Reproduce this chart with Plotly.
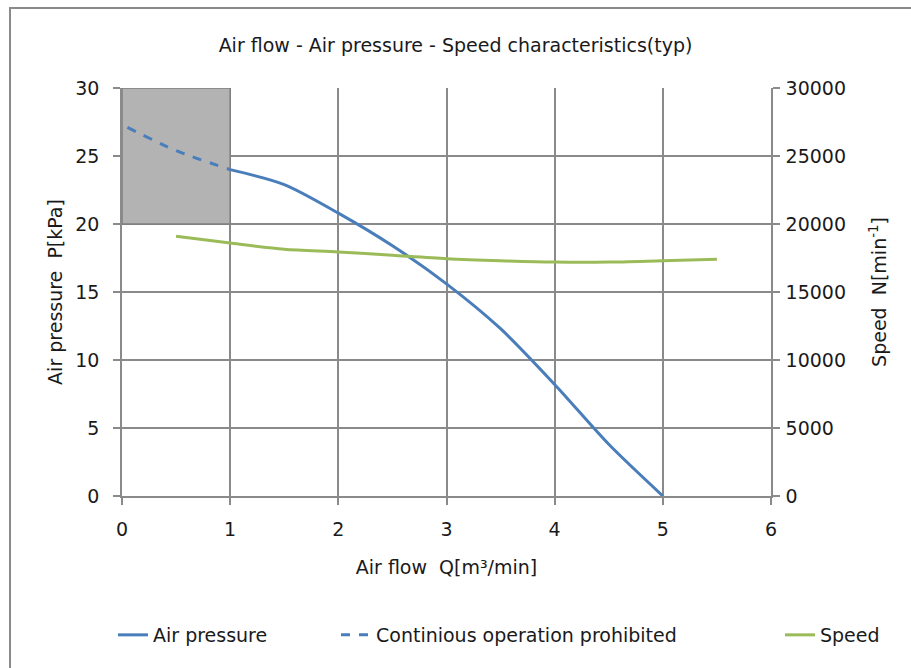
import plotly.graph_objects as go

# Air flow Q [m3/min] vs. air pressure P [kPa] and rotor speed N [min-1]
flow_prohibited = [0.05, 0.5, 1.0]
pressure_prohibited = [27.1, 25.4, 24.0]

flow_pressure = [1.0, 1.5, 2.0, 2.5, 3.0, 3.5, 4.0, 4.5, 5.0]
pressure = [24.0, 22.9, 20.8, 18.4, 15.6, 12.3, 8.2, 3.8, 0.0]

flow_speed = [0.5, 1.0, 1.5, 2.0, 2.5, 3.0, 3.5, 4.0, 4.5, 5.0, 5.5]
speed = [19100, 18600, 18150, 17950, 17700, 17450, 17300, 17200, 17200, 17300, 17400]

# Region where continuous operation is not allowed
zone_flow = [0, 1]
zone_pressure = [20, 30]

BLUE = "#4A7EBB"
GREEN = "#9BBB59"
GRID = "#8A8A8A"
FONT = "DejaVu Sans"
FS = 19
TXT = "#1a1a1a"
W, H = 911, 668

fig = go.Figure()

fig.add_trace(go.Scatter(
    x=[zone_flow[0], zone_flow[1], zone_flow[1], zone_flow[0], zone_flow[0]],
    y=[zone_pressure[0], zone_pressure[0], zone_pressure[1], zone_pressure[1], zone_pressure[0]],
    fill="toself", fillcolor="#B3B3B3", mode="lines",
    line=dict(color="#7F7F7F", width=1.5),
    showlegend=False, hoverinfo="skip",
))

fig.add_trace(go.Scatter(
    x=flow_pressure, y=pressure, name="Air pressure", mode="lines",
    line=dict(color=BLUE, width=3, shape="spline", smoothing=0.8),
    legend="legend",
))
fig.add_trace(go.Scatter(
    x=flow_prohibited, y=pressure_prohibited, name="Continious operation prohibited",
    mode="lines",
    line=dict(color=BLUE, width=3, dash="dash", shape="spline", smoothing=0.8),
    legend="legend2",
))
fig.add_trace(go.Scatter(
    x=flow_speed, y=speed, name="Speed", mode="lines", yaxis="y2",
    line=dict(color=GREEN, width=3, shape="spline", smoothing=0.8),
    legend="legend3",
))

axis_common = dict(
    showgrid=True, gridcolor=GRID, gridwidth=1.5,
    showline=True, linecolor=GRID, linewidth=1.5,
    ticks="outside", ticklen=7, tickcolor=GRID, tickwidth=1.5,
    zeroline=False, tickfont=dict(family=FONT, size=FS, color=TXT),
    automargin=False,
)


def legend_at(px_left):
    # one legend box per series, laid out in a row along the bottom
    return dict(
        orientation="h", xref="container", x=px_left / W, xanchor="left",
        yref="container", y=1 - 635 / H, yanchor="middle",
        font=dict(family=FONT, size=FS, color=TXT), bgcolor="rgba(0,0,0,0)",
    )


fig.update_layout(
    width=W, height=H,
    margin=dict(l=122, r=140, t=88, b=172, autoexpand=False),
    paper_bgcolor="white", plot_bgcolor="white",
    font=dict(family=FONT, size=FS, color=TXT),
    title=dict(
        text="Air flow - Air pressure - Speed characteristics(typ)",
        x=0.5, xanchor="center", y=1 - 45 / H, yanchor="middle",
        font=dict(family=FONT, size=FS, color=TXT),
    ),
    xaxis=dict(
        range=[0, 6], dtick=1, tick0=0, ticklabelstandoff=8,
        title=dict(text="Air flow  Q[m³/min]", standoff=22,
                   font=dict(family=FONT, size=FS)),
        **axis_common,
    ),
    yaxis=dict(
        range=[0, 30], dtick=5, tick0=0, ticklabelstandoff=10,
        title=dict(text="Air pressure  P[kPa]", standoff=8,
                   font=dict(family=FONT, size=FS)),
        **axis_common,
    ),
    yaxis2=dict(
        range=[0, 30000], dtick=5000, tick0=0, overlaying="y", side="right",
        tickformat="d", ticklabelstandoff=2,
        title=dict(text="Speed  N[min<sup>-1</sup>]", standoff=28,
                   font=dict(family=FONT, size=FS)),
        **{k: v for k, v in axis_common.items() if k not in ("showgrid", "gridcolor", "gridwidth")},
        showgrid=False,
    ),
    legend=legend_at(113),
    legend2=legend_at(336),
    legend3=legend_at(780),
    shapes=[dict(
        type="rect", xref="paper", yref="paper",
        x0=(10 - 122) / 649, x1=1.5, y0=-1.0, y1=(496 - 8) / 408,
        line=dict(color="#8A8A8A", width=2), fillcolor="rgba(0,0,0,0)",
        layer="below",
    )],
)

fig.write_html("out.html")
